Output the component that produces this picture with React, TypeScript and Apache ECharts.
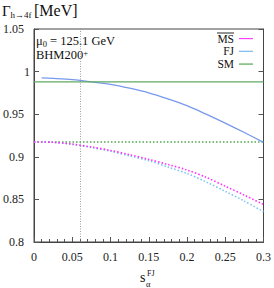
import React, { useEffect, useRef } from "react";
import * as echarts from "echarts";

const sFull = [0, 0.025, 0.05, 0.075, 0.1, 0.125, 0.15, 0.175, 0.2, 0.225, 0.25, 0.275, 0.3];
const sFJ = [0.01, 0.025, 0.05, 0.075, 0.1, 0.125, 0.15, 0.175, 0.2, 0.225, 0.25, 0.275, 0.3];
const fjSolid = [0.9927, 0.992, 0.9905, 0.988, 0.985, 0.9805, 0.975, 0.968, 0.96, 0.95, 0.9395, 0.9285, 0.917];
const msDotted = [0.9175, 0.917, 0.915, 0.9115, 0.9075, 0.9025, 0.897, 0.891, 0.8845, 0.876, 0.8655, 0.855, 0.844];
const fjDotted = [0.9175, 0.917, 0.9145, 0.911, 0.9065, 0.901, 0.8955, 0.888, 0.8805, 0.8705, 0.8595, 0.848, 0.8355];
const smSolid = 0.988;
const smDotted = 0.9175;
const sRef = 0.0565;
const xRange = [0, 0.3];
const yTicks = [0.8, 0.85, 0.9, 0.95, 1, 1.05];
const legendNames = ["MS", "FJ", "SM"];
const legendColors = ["#ff40ff", "#77bbee", "#55aa55"];

const SERIF = "'Liberation Serif', 'DejaVu Serif', serif";

export default function App() {
  const ref = useRef<HTMLDivElement>(null);
  useEffect(() => {
    if (!ref.current) return;
    const chart = echarts.init(ref.current, null, { renderer: "svg" });
    const fmt = (v: number) => String(Math.round(v * 100) / 100);
    const yFmt = (v: number) => {
      const s = fmt(v);
      return s === "1" ? s : `{p|${s}}`;
    };
    const pairs = (xs: number[], ys: number[]) => xs.map((x, i) => [x, ys[i]]);
    const axisColor = "#444";
    const legendTop = 32.2;
    const legendLH = 12.75;
    const legendGraphics: any[] = [
      {
        type: "text",
        x: 234,
        y: legendTop,
        style: {
          text: legendNames.join("\n"),
          font: `11.5px ${SERIF}`,
          fill: "#111",
          align: "right",
          verticalAlign: "top",
          lineHeight: legendLH,
        },
      },
      {
        type: "line",
        shape: { x1: 217, y1: 33, x2: 234, y2: 33 },
        style: { stroke: "#111", lineWidth: 0.9 },
      },
    ];
    legendNames.forEach((n, i) => {
      const y = legendTop + legendLH * (i + 0.5);
      legendGraphics.push({
        type: "line",
        shape: { x1: 239, y1: y, x2: 253, y2: y },
        style: { stroke: legendColors[i], lineWidth: 1.2 },
      });
    });
    chart.setOption({
      animation: false,
      backgroundColor: "#fff",
      grid: { left: 32, right: 8, top: 29, bottom: 46, show: true, borderColor: axisColor, borderWidth: 1 },
      xAxis: [
        {
          type: "value",
          min: xRange[0],
          max: xRange[1],
          interval: 0.05,
          axisLine: { show: true, lineStyle: { color: axisColor } },
          axisTick: { show: true, inside: true, length: 5, lineStyle: { color: "#555" } },
          minorTick: { show: true, splitNumber: 5, length: 3, lineStyle: { color: "#555" } },
          splitLine: { show: false },
          axisLabel: { formatter: fmt, fontFamily: SERIF, fontSize: 12, color: "#222", margin: 9 },
        },
      ],
      yAxis: [
        {
          type: "value",
          min: yTicks[0],
          max: yTicks[yTicks.length - 1],
          interval: 0.05,
          axisLine: { show: true, lineStyle: { color: axisColor } },
          axisTick: { show: true, inside: true, length: 5, lineStyle: { color: "#555" } },
          splitLine: { show: false },
          axisLabel: {
            formatter: yFmt,
            fontFamily: SERIF,
            fontSize: 12,
            color: "#222",
            margin: 4,
            rich: { p: { fontFamily: SERIF, fontSize: 12, color: "#222", padding: [0, 6, 0, 0] } },
          },
        },
        {
          type: "value",
          position: "right",
          min: yTicks[0],
          max: yTicks[yTicks.length - 1],
          interval: 0.05,
          axisLine: { show: true, lineStyle: { color: axisColor } },
          axisTick: { show: true, inside: true, length: 5, lineStyle: { color: "#555" } },
          splitLine: { show: false },
          axisLabel: { show: false },
        },
      ],
      series: [
        {
          name: "SM dotted",
          type: "line",
          showSymbol: false,
          data: [[xRange[0], smDotted], [xRange[1], smDotted]],
          lineStyle: { color: "#4faa4f", width: 1.5, type: [1.5, 2] },
          z: 2,
        },
        {
          name: "FJ dotted",
          type: "line",
          smooth: 0.3,
          showSymbol: false,
          data: pairs(sFull, fjDotted),
          lineStyle: { color: "#7cc6f4", width: 1.6, type: [1.5, 2] },
          z: 3,
        },
        {
          name: "MS dotted",
          type: "line",
          smooth: 0.3,
          showSymbol: false,
          data: pairs(sFull, msDotted),
          lineStyle: { color: "#ff30ff", width: 1.6, type: [1.5, 2] },
          z: 4,
        },
        {
          name: "FJ",
          type: "line",
          smooth: 0.3,
          showSymbol: false,
          data: pairs(sFJ, fjSolid),
          lineStyle: { color: "#7799ee", width: 1.3 },
          z: 3,
        },
        {
          name: "SM",
          type: "line",
          showSymbol: false,
          data: [[xRange[0], smSolid], [xRange[1], smSolid]],
          lineStyle: { color: "#60aa60", width: 1.3 },
          z: 4,
          markLine: {
            silent: true,
            symbol: "none",
            label: { show: false },
            lineStyle: { color: "#888", width: 0.8, type: [1, 1.5] },
            data: [{ xAxis: sRef }],
          },
        },
      ],
      graphic: [
        { type: "text", left: 2, top: 3, style: { text: "Γ", font: `15px ${SERIF}`, fill: "#111" } },
        { type: "text", left: 10.5, top: 10, style: { text: "h→4f", font: `9px ${SERIF}`, fill: "#111" } },
        { type: "text", left: 34, top: 2, style: { text: "[MeV]", font: `16px ${SERIF}`, fill: "#111" } },
        {
          type: "text",
          x: 36,
          y: 34,
          style: {
            text: "{m|μ}{s|0}{m| = 125.1 GeV}\n{m|BHM200}{u|+}",
            fill: "#111",
            rich: {
              m: { fontFamily: SERIF, fontSize: 12.5, lineHeight: 14, fill: "#111" },
              s: { fontFamily: SERIF, fontSize: 8.5, lineHeight: 6, verticalAlign: "bottom", fill: "#111" },
              u: { fontFamily: SERIF, fontSize: 8.5, lineHeight: 6, verticalAlign: "top", fill: "#111" },
            },
          },
        },
        ...legendGraphics,
        // x-axis title
        { type: "text", left: 140, top: 270, style: { text: "s", font: `14px ${SERIF}`, fill: "#111" } },
        { type: "text", left: 147, top: 269.5, style: { text: "FJ", font: `8px ${SERIF}`, fill: "#111" } },
        { type: "text", left: 146, top: 279.5, style: { text: "α", font: `8.5px ${SERIF}`, fill: "#111" } },
      ],
    });
    return () => chart.dispose();
  }, []);
  return <div ref={ref} style={{ width: 274, height: 288, position: "absolute", left: 0, top: 0 }} />;
}
